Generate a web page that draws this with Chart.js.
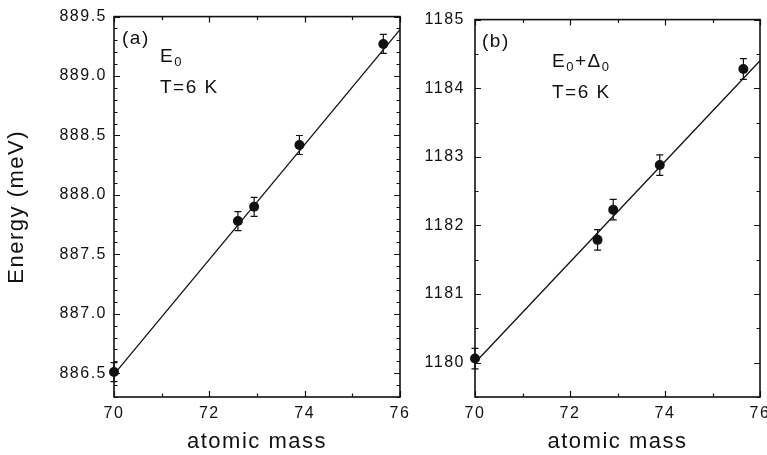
<!DOCTYPE html>
<html>
<head>
<meta charset="utf-8">
<script src="https://cdn.jsdelivr.net/npm/chart.js@4.4.0/dist/chart.umd.min.js"></script>
<style>
  html, body { margin: 0; padding: 0; background: #fff; overflow: hidden; }
  #wrap { position: relative; width: 767px; height: 455px; overflow: hidden; background: #fff; }
  canvas { position: absolute; top: 0; }
  #chartA { left: 0; }
  #chartB { left: 400px; }
</style>
</head>
<body>
<div id="wrap">
  <canvas id="chartA" width="420" height="455"></canvas>
  <canvas id="chartB" width="390" height="455"></canvas>
</div>
<script>
// panel (a): E0
const massA = [70.0, 72.6, 72.94, 73.89, 75.65];
const energyA = [886.51, 887.78, 887.90, 888.42, 889.27];
const errA = [0.08, 0.08, 0.08, 0.08, 0.08];
const fitMassA = [70, 76];
const fitEnergyA = [886.49, 889.39];
const yTicksA = [886.5, 887.0, 887.5, 888.0, 888.5, 889.0, 889.5];

// panel (b): E0 + Delta0
const massB = [70.0, 72.58, 72.91, 73.89, 75.65];
const energyB = [1180.06, 1181.79, 1182.23, 1182.88, 1184.28];
const errB = [0.15, 0.15, 0.15, 0.15, 0.15];
const fitMassB = [70, 76];
const fitEnergyB = [1180.0, 1184.4];
const yTicksB = [1180, 1181, 1182, 1183, 1184, 1185];

const xTicks = [70, 72, 74, 76];

const INK = '#111';
const FONT = "'Liberation Sans', Arial, Helvetica, sans-serif";
const SPACING = '1.5px';

// frame, inward ticks, error bars and panel labels
const framePlugin = {
  id: 'frame',
  beforeLayout(chart) { chart.ctx.letterSpacing = SPACING; },
  beforeDraw(chart) { chart.ctx.letterSpacing = SPACING; },
  beforeDatasetsDraw(chart, args, opts) {
    const { ctx, scales: { x, y } } = chart;
    const pts = chart.data.datasets[0].data;
    ctx.save();
    ctx.strokeStyle = INK;
    ctx.lineWidth = 1.2;
    pts.forEach((p, i) => {
      const px = x.getPixelForValue(p.x);
      const y1 = y.getPixelForValue(p.y - opts.errors[i]);
      const y2 = y.getPixelForValue(p.y + opts.errors[i]);
      ctx.beginPath();
      ctx.moveTo(px, y1); ctx.lineTo(px, y2);
      ctx.moveTo(px - 3.5, y1); ctx.lineTo(px + 3.5, y1);
      ctx.moveTo(px - 3.5, y2); ctx.lineTo(px + 3.5, y2);
      ctx.stroke();
    });
    ctx.restore();
  },
  afterDraw(chart, args, opts) {
    const { ctx, chartArea: a, scales: { x, y } } = chart;
    ctx.save();
    ctx.strokeStyle = INK;
    ctx.lineWidth = 1.6;
    ctx.strokeRect(a.left, a.top, a.right - a.left, a.bottom - a.top);

    ctx.lineWidth = 1.2;
    ctx.beginPath();
    const vt = (v, len) => {
      const px = Math.round(x.getPixelForValue(v)) + 0.5;
      ctx.moveTo(px, a.bottom); ctx.lineTo(px, a.bottom - len);
      ctx.moveTo(px, a.top); ctx.lineTo(px, a.top + len);
    };
    const ht = (v, len) => {
      const py = Math.round(y.getPixelForValue(v)) + 0.5;
      ctx.moveTo(a.left, py); ctx.lineTo(a.left + len, py);
      ctx.moveTo(a.right, py); ctx.lineTo(a.right - len, py);
    };
    const isMajor = (v, list) => list.some(t => Math.abs(t - v) < 1e-6);
    xTicks.forEach(v => vt(v, 6));
    for (let i = 0; x.min + i * opts.xMinor <= x.max + 1e-9; i++) {
      const v = x.min + i * opts.xMinor;
      if (!isMajor(v, xTicks)) vt(v, 3.5);
    }
    opts.yTicks.forEach(v => ht(v, 6));
    const start = Math.ceil(y.min / opts.yMinor - 1e-9);
    for (let i = start; i * opts.yMinor <= y.max + 1e-9; i++) {
      const v = i * opts.yMinor;
      if (!isMajor(v, opts.yTicks)) ht(v, 3.5);
    }
    ctx.stroke();

    // annotations
    ctx.fillStyle = INK;
    ctx.textBaseline = 'alphabetic';
    ctx.textAlign = 'left';
    ctx.letterSpacing = SPACING;
    opts.notes.forEach(n => {
      let cx = a.left + n.dx;
      n.parts.forEach(([txt, sub]) => {
        ctx.font = (sub ? '13px ' : '19px ') + FONT;
        ctx.fillText(txt, cx, a.top + n.dy + (sub ? 4 : 0));
        cx += ctx.measureText(txt).width;
      });
    });
    ctx.restore();
  }
};

function makePanel(id, cfg) {
  const tickFont = { family: FONT, size: 16 };
  return new Chart(document.getElementById(id), {
    type: 'scatter',
    data: {
      datasets: [
        {
          data: cfg.mass.map((m, i) => ({ x: m, y: cfg.energy[i] })),
          pointRadius: 5,
          pointBackgroundColor: INK,
          pointBorderWidth: 0,
          clip: false
        },
        {
          data: cfg.fitMass.map((m, i) => ({ x: m, y: cfg.fitEnergy[i] })),
          showLine: true,
          pointRadius: 0,
          borderColor: INK,
          borderWidth: 1.3,
          clip: false
        }
      ]
    },
    options: {
      responsive: false,
      animation: false,
      devicePixelRatio: 1,
      layout: { padding: { top: 15, right: cfg.padRight, bottom: 0, left: 0 } },
      plugins: {
        legend: { display: false },
        tooltip: { enabled: false },
        frame: { errors: cfg.err, yTicks: cfg.yTicks, xMinor: 1, yMinor: cfg.yMinor, notes: cfg.notes }
      },
      scales: {
        x: {
          type: 'linear',
          min: 70,
          max: 76,
          afterBuildTicks: s => { s.ticks = xTicks.map(v => ({ value: v })); },
          afterFit: s => { s.height = 58; },
          grid: { display: false, drawTicks: false },
          border: { display: false },
          ticks: { padding: 7, color: INK, font: tickFont, maxRotation: 0, callback: v => String(v) },
          title: {
            display: true,
            text: 'atomic mass',
            color: INK,
            font: { family: FONT, size: 22 },
            padding: { top: 0, bottom: 0 }
          }
        },
        y: {
          type: 'linear',
          min: cfg.yMin,
          max: cfg.yMax,
          afterBuildTicks: s => { s.ticks = cfg.yTicks.map(v => ({ value: v })); },
          afterFit: s => { s.width = cfg.yWidth; },
          grid: { display: false, drawTicks: false },
          border: { display: false },
          ticks: { padding: cfg.yPad, color: INK, font: tickFont, callback: cfg.fmt },
          title: {
            display: cfg.yTitle !== '',
            text: cfg.yTitle,
            color: INK,
            font: { family: FONT, size: 22 },
            padding: { top: 4, bottom: 0 }
          }
        }
      }
    },
    plugins: [framePlugin]
  });
}

makePanel('chartA', {
  mass: massA, energy: energyA, err: errA,
  fitMass: fitMassA, fitEnergy: fitEnergyA,
  yMin: 886.3, yMax: 889.5, yTicks: yTicksA, yMinor: 0.1,
  fmt: v => Number(v).toFixed(1),
  yWidth: 114, yPad: 7, padRight: 20,
  yTitle: 'Energy (meV)',
  notes: [
    { dx: 8, dy: 27, parts: [['(a)', false]] },
    { dx: 46, dy: 45, parts: [['E', false], ['0', true]] },
    { dx: 46, dy: 76, parts: [['T=6 K', false]] }
  ]
});

makePanel('chartB', {
  mass: massB, energy: energyB, err: errB,
  fitMass: fitMassB, fitEnergy: fitEnergyB,
  yMin: 1179.5, yMax: 1185, yTicks: yTicksB, yMinor: 0.5,
  fmt: v => String(v),
  yWidth: 75, yPad: 10, padRight: 30,
  yTitle: '',
  notes: [
    { dx: 7, dy: 27, parts: [['(b)', false]] },
    { dx: 77, dy: 47, parts: [['E', false], ['0', true], ['+', false], ['\u0394', false], ['0', true]] },
    { dx: 77, dy: 78, parts: [['T=6 K', false]] }
  ]
});
</script>
</body>
</html>
